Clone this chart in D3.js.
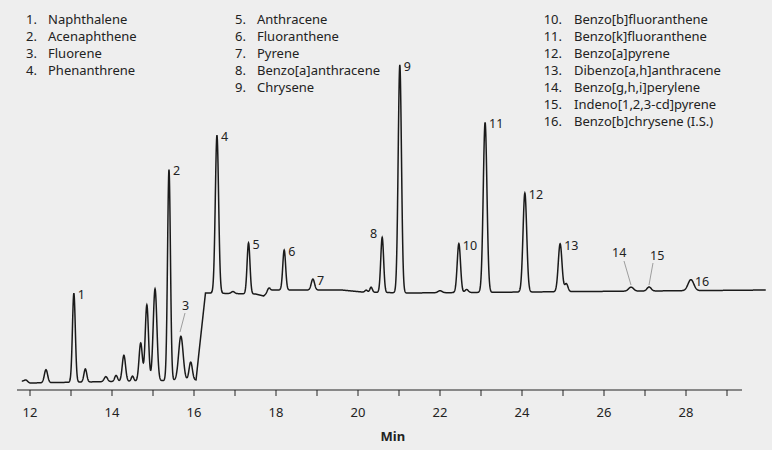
<!DOCTYPE html><html><head><meta charset="utf-8">
<script src="https://cdn.jsdelivr.net/npm/d3@7"></script>
<style>body{margin:0;background:#eeeeee}svg{display:block;font-family:"Noto Sans",sans-serif}</style></head><body>
<script>
// Peak table: retention time (min), height, width (sigma, min)
const peakTimes   = [11.9,12.39,13.07,13.35,13.85,14.1,14.29,14.5,14.7,14.85,15.05,15.39,15.68,15.92,16.56,16.95,17.33,17.82,18.2,18.9,20.2,20.32,20.59,21.02,22.0,22.46,22.65,23.1,24.07,24.93,25.08,26.66,27.1,28.12];
const peakHeights = [2,13,89,13,5,6,26,5,38,76,92,211,44,18,158,2,51,3,40,11,2,5,55,228,2,49,3,170,99,48,8,4,4,11];
const peakWidths  = [0.04,0.04,0.035,0.035,0.04,0.035,0.04,0.03,0.04,0.04,0.045,0.035,0.055,0.04,0.04,0.04,0.035,0.03,0.035,0.04,0.03,0.03,0.035,0.04,0.05,0.04,0.04,0.045,0.045,0.045,0.04,0.06,0.05,0.07];
const baseTimes  = [11.8,12.0,16.05,16.12,16.28,17.5,17.7,17.85,19.6,20.1,21.2,30.0];
const baseLevels = [2,0,3,30,90,89,87,93,93,91,90,93];
const labelIds = ["1","2","3","4","5","6","7","8","9","10","11","12","13","14","15","16"];
const labelPeakIdx = [2,11,12,14,16,18,19,22,23,25,27,28,29,31,32,33];
const names = ["Naphthalene","Acenaphthene","Fluorene","Phenanthrene","Anthracene","Fluoranthene","Pyrene","Benzo[a]anthracene","Chrysene","Benzo[b]fluoranthene","Benzo[k]fluoranthene","Benzo[a]pyrene","Dibenzo[a,h]anthracene","Benzo[g,h,i]perylene","Indeno[1,2,3-cd]pyrene","Benzo[b]chrysene (I.S.)"];
const tickValues = [12,13,14,15,16,17,18,19,20,21,22,23,24,25,26,27,28,29];
const tickLabels = [12,14,16,18,20,22,24,26,28];

const W=772,H=450;
const svg=d3.select("body").append("svg").attr("width",W).attr("height",H);
svg.append("rect").attr("width",W).attr("height",H).attr("fill","#eeeeee");
const x=d3.scaleLinear().domain([12,28]).range([30,686]);
const y=d3.scaleLinear().domain([0,330]).range([383,53]);
const base=d3.scaleLinear().domain(baseTimes).range(baseLevels);
function sig(t){let s=base(t);for(let i=0;i<peakTimes.length;i++){const d=(t-peakTimes[i])/peakWidths[i];s+=peakHeights[i]*Math.exp(-0.5*d*d);}return s;}
const ts=d3.range(11.8,29.95,0.005);
svg.append("path").datum(ts).attr("fill","none").attr("stroke","#1a1a1a").attr("stroke-width",1.5)
  .attr("d",d3.line().x(t=>x(t)).y(t=>y(sig(t))));
// axis
const ax=svg.append("g").attr("transform","translate(0,390)");
ax.append("line").attr("x1",17).attr("x2",742).attr("stroke","#222").attr("stroke-width",1.2);
ax.selectAll(".tk").data(tickValues).join("line").attr("x1",d=>x(d)).attr("x2",d=>x(d)).attr("y1",0).attr("y2",6).attr("stroke","#222");
ax.selectAll(".tl").data(tickLabels).join("text").attr("x",d=>x(d)).attr("y",27).attr("text-anchor","middle").attr("font-size",13).attr("fill","#222").text(d=>d);
svg.append("text").attr("x",x(20.85)).attr("y",441).attr("text-anchor","middle").attr("font-size",13).attr("font-weight","bold").attr("fill","#222").text("Min");
// peak labels
const special={"3":[182,310],"14":[612,257],"15":[650,260],"8":[370,238]};
labelIds.forEach((id,i)=>{const k=labelPeakIdx[i];const t=peakTimes[k];const px=x(t),py=y(sig(t));
  let lx=px+4,ly=py+6;
  if(special[id]){[lx,ly]=special[id];}
  svg.append("text").attr("x",lx).attr("y",ly).attr("font-size",12.5).attr("fill","#222").text(id);
});
const leaders=[[185,313,180,332],[624,261,631,285],[653,263,649,285]];
svg.selectAll(".ld").data(leaders).join("line").attr("x1",d=>d[0]).attr("y1",d=>d[1]).attr("x2",d=>d[2]).attr("y2",d=>d[3]).attr("stroke","#888").attr("stroke-width",0.8);
// legend
const cols=[[0,4,37,48],[4,9,246,257],[9,16,562,574]];
cols.forEach(([a,b,nx,tx])=>{for(let i=a;i<b;i++){const yy=24+(i-a)*17;
  svg.append("text").attr("x",nx).attr("y",yy).attr("text-anchor","end").attr("font-size",13).attr("fill","#222").text((i+1)+".");
  svg.append("text").attr("x",tx).attr("y",yy).attr("font-size",13).attr("fill","#222").text(names[i]);}});
</script></body></html>
